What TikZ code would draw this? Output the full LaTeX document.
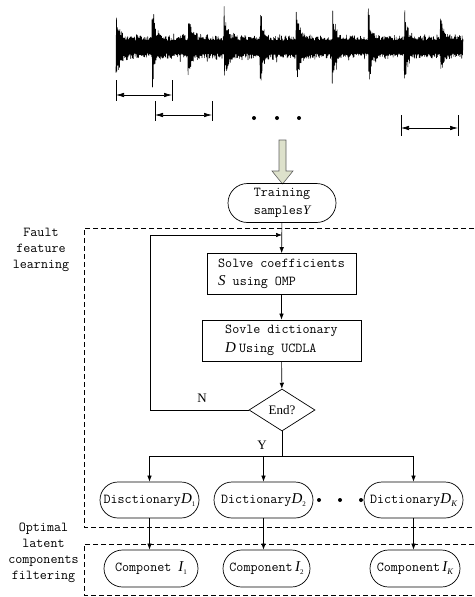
\documentclass[tikz,border=0pt]{standalone}
\usepackage{fontspec}
\newfontfamily\tms{Liberation Serif}
\usetikzlibrary{shapes.misc,shapes.geometric,arrows.meta}
\newcommand\myit[1]{{\tms\itshape\fontsize{15}{15}\selectfont #1}}
\newcommand\myitY[1]{{\tms\itshape\fontsize{13}{13}\selectfont #1}}
\newcommand\mysubup[1]{\raisebox{-0.5ex}{\tms\fontsize{7}{7}\selectfont #1}}
\newcommand\mysubit[1]{\raisebox{-0.5ex}{\tms\itshape\fontsize{8.5}{8.5}\selectfont #1}}
\definecolor{arrfill}{RGB}{221,225,203}
\definecolor{arrdraw}{RGB}{95,95,95}
\begin{document}
\begin{tikzpicture}[x=1pt,y=-1pt,
  mono/.style={font=\ttfamily\fontsize{13.66}{18.5}\selectfont},
  term/.style={mono, draw, line width=0.7pt, rounded rectangle, inner xsep=0pt, inner ysep=0pt},
  procbox/.style={mono, draw, rectangle, line width=0.7pt, align=left, inner sep=0pt},
  arr/.style={-{Latex[length=6pt,width=4.5pt]}, line width=0.6pt},
  darr/.style={{Latex[length=8pt,width=4.5pt]}-{Latex[length=8pt,width=4.5pt]}, line width=0.7pt},
  dline/.style={line width=0.7pt, dash pattern=on 5pt off 3pt},
  lbl/.style={font=\ttfamily\fontsize{13.66}{16}\selectfont, align=center},
  yn/.style={font=\tms\fontsize{13}{13}\selectfont}]
\useasboundingbox (0,0) rectangle (474,597);

% vibration signal
\pgfmathsetseed{11}
\draw[line width=0.6pt, line join=round] plot[variable=\i, samples=800, domain=0:799]
  ({116+\i*0.4343},{47 + (1-2*mod(round(\i),2))*(0.55+0.45*rnd)*(11 + 6*rnd*rnd*rnd + 34*exp(-mod(\i*0.4343,36)/3))});

% segment markers
\draw[line width=0.6pt] (116,80) -- (116,101) (172,80) -- (172,101);
\draw[darr] (116,95) -- (172,95);
\draw[line width=0.6pt] (155,101) -- (155,121) (212,101) -- (212,121);
\draw[darr] (155,115) -- (212,115);
\draw[line width=0.6pt] (401,115) -- (401,136) (458,115) -- (458,136);
\draw[darr] (401,128) -- (458,128);
\fill (254,118) circle (2) (277,118) circle (2) (299,118) circle (2);

% hollow arrow
\draw[fill=arrfill, draw=arrdraw, line width=0.6pt]
  (279,140) -- (286,140) -- (286,171) -- (293,171) -- (282.5,184) -- (272,171) -- (279,171) -- cycle;

% dashed regions
\draw[dline] (474,228) -- (84,228) -- (84,527) -- (474,527);
\draw[dline] (474,544) -- (84,544) -- (84,595) -- (474,595);

\node[lbl] (lab1) at (41,249.5) {Fault\\feature\\learning};
\node[lbl] (lab2) at (43.5,552.5) {Optimal\\latent\\components\\filtering};

% nodes
\node[term, minimum width=108pt, minimum height=39pt, align=center] (train) at (282,203)
  {Training\\samples\myitY{Y}};
\node[procbox, minimum width=149pt, minimum height=41pt] (b1) at (281.5,274)
  {Solve coefficients\\\myit{S} using OMP};
\node[procbox, minimum width=159pt, minimum height=41pt] (b2) at (281.5,340.5)
  {Sovle dictionary\\\myit{D}\hspace{3pt}Using UCDLA};
\node[draw, diamond, line width=0.7pt, minimum width=66pt, minimum height=42pt, inner sep=0pt,
  font=\tms\fontsize{13}{13}\selectfont] (dia) at (282,410) {End?};

\node[term, minimum width=99pt, minimum height=36pt] (d1) at (149.5,500)
  {Disctionary\myit{D}\mysubup{1}};
\node[term, minimum width=99pt, minimum height=36pt] (d2) at (263.5,500)
  {Dictionary\myit{D}\mysubup{2}};
\node[term, minimum width=99pt, minimum height=36pt] (dk) at (413.5,500)
  {Dictionary\myit{D}\mysubit{K}};
\fill (319,500) circle (2) (340,500) circle (2) (361,500) circle (2);

\node[term, minimum width=94pt, minimum height=37pt] (i1) at (151,568.5)
  {Componet \myit{I}\mysubup{1}};
\node[term, minimum width=87pt, minimum height=37pt] (i2) at (266.5,568.5)
  {Component\,\myit{I}\mysubup{2}};
\node[term, minimum width=90pt, minimum height=37pt] (ik) at (415,568.5)
  {Component\,\myit{I}\mysubit{K}};

% connectors
\draw[arr] (train) -- (b1);
\draw[arr] (b1) -- (b2);
\draw[arr] (b2) -- (dia);
\coordinate (lpl) at (150,235);
\coordinate (jn) at (282,235);
\draw[arr] (dia.west) -| (lpl) -- (jn);
\node[yn] (nlab) at (202,398) {N};
\coordinate (br) at (282,456);
\draw[line width=0.6pt] (dia.south) -- (br);
\node[yn] (ylab) at (262,445) {Y};
\draw[arr] (br) -| (d1);
\draw[arr] (br) -| (d2);
\draw[arr] (br) -| (dk);
\draw[arr] (d1.south) -- (d1.south |- i1.north);
\draw[arr] (d2.south) -- (d2.south |- i2.north);
\draw[arr] (dk.south) -- (dk.south |- ik.north);
\end{tikzpicture}
\end{document}
